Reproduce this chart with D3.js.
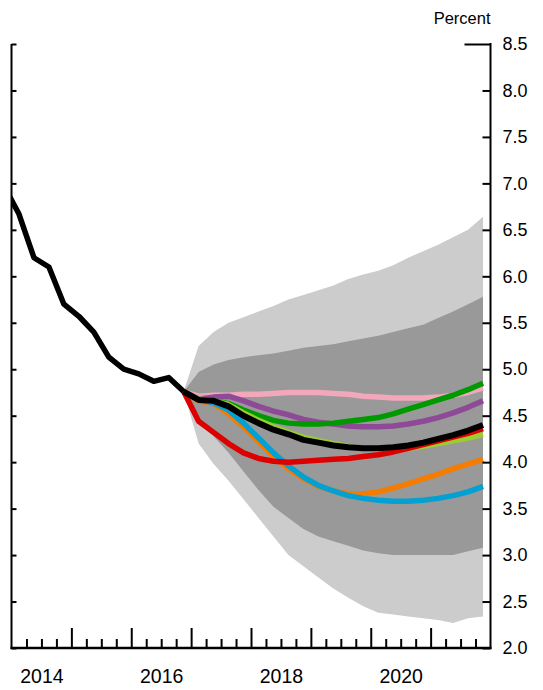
<!DOCTYPE html>
<html>
<head>
<meta charset="utf-8">
<script src="https://cdn.jsdelivr.net/npm/d3@7/dist/d3.min.js"></script>
<style>
  html, body { margin: 0; padding: 0; background: #fff; }
  svg { display: block; }
  text { font-family: "Liberation Sans", Arial, sans-serif; fill: #000; }
</style>
</head>
<body>
<svg id="chart" width="543" height="690"></svg>
<script>
// ---------- DATA ----------
// Historical quarters (quarter labels) and unemployment rate, percent
const histQuarters = ["2013Q4","2014Q1","2014Q2","2014Q3","2014Q4","2015Q1","2015Q2","2015Q3","2015Q4","2016Q1","2016Q2","2016Q3","2016Q4"];
const histValues   = [6.97, 6.67, 6.20, 6.10, 5.70, 5.57, 5.40, 5.13, 5.00, 4.95, 4.87, 4.91, 4.76];

// Forecast quarters 2016Q4 .. 2021Q4
const fcQuarters = ["2016Q4",
  "2017Q1","2017Q2","2017Q3","2017Q4",
  "2018Q1","2018Q2","2018Q3","2018Q4",
  "2019Q1","2019Q2","2019Q3","2019Q4",
  "2020Q1","2020Q2","2020Q3","2020Q4",
  "2021Q1","2021Q2","2021Q3","2021Q4"];

// Confidence bands
const outerUpper = [4.76, 5.25, 5.40, 5.50, 5.56, 5.62, 5.68, 5.75, 5.80, 5.85, 5.90, 5.97, 6.02, 6.06, 6.12, 6.20, 6.27, 6.34, 6.42, 6.50, 6.64];
const innerUpper = [4.76, 4.97, 5.05, 5.10, 5.13, 5.15, 5.17, 5.20, 5.23, 5.25, 5.27, 5.30, 5.33, 5.36, 5.40, 5.44, 5.48, 5.55, 5.62, 5.70, 5.78];
const innerLower = [4.76, 4.42, 4.28, 4.10, 3.90, 3.70, 3.52, 3.40, 3.28, 3.20, 3.15, 3.10, 3.05, 3.02, 3.00, 3.00, 3.00, 3.00, 3.00, 3.04, 3.08];
const outerLower = [4.76, 4.20, 3.98, 3.80, 3.60, 3.40, 3.20, 3.00, 2.88, 2.76, 2.64, 2.54, 2.45, 2.38, 2.36, 2.34, 2.32, 2.30, 2.27, 2.32, 2.34];

// Scenario paths
const pinkPath   = [4.76, 4.71, 4.72, 4.72, 4.73, 4.73, 4.74, 4.75, 4.75, 4.75, 4.74, 4.73, 4.71, 4.70, 4.69, 4.69, 4.69, 4.70, 4.72, 4.75, 4.80];
const purplePath = [4.76, 4.68, 4.70, 4.71, 4.66, 4.60, 4.55, 4.51, 4.46, 4.43, 4.41, 4.39, 4.38, 4.38, 4.39, 4.41, 4.44, 4.48, 4.53, 4.59, 4.66];
const greenPath  = [4.76, 4.67, 4.66, 4.63, 4.56, 4.50, 4.45, 4.42, 4.41, 4.41, 4.42, 4.44, 4.46, 4.48, 4.52, 4.57, 4.62, 4.67, 4.72, 4.78, 4.85];
const limePath   = [4.76, 4.68, 4.66, 4.62, 4.53, 4.45, 4.38, 4.32, 4.27, 4.23, 4.20, 4.17, 4.15, 4.14, 4.14, 4.15, 4.17, 4.20, 4.23, 4.26, 4.30];
const orangePath = [4.76, 4.66, 4.63, 4.52, 4.38, 4.22, 4.06, 3.93, 3.82, 3.74, 3.69, 3.66, 3.66, 3.68, 3.72, 3.77, 3.82, 3.87, 3.93, 3.98, 4.03];
const cyanPath   = [4.76, 4.67, 4.64, 4.56, 4.42, 4.26, 4.10, 3.96, 3.84, 3.75, 3.69, 3.64, 3.61, 3.59, 3.58, 3.58, 3.59, 3.61, 3.64, 3.68, 3.74];
const redPath    = [4.76, 4.44, 4.32, 4.20, 4.10, 4.04, 4.01, 4.00, 4.01, 4.02, 4.03, 4.04, 4.06, 4.08, 4.11, 4.15, 4.19, 4.23, 4.27, 4.31, 4.36];
const blackPath  = [4.76, 4.67, 4.66, 4.60, 4.50, 4.42, 4.35, 4.30, 4.24, 4.21, 4.18, 4.16, 4.15, 4.15, 4.16, 4.18, 4.21, 4.25, 4.29, 4.34, 4.40];

// Axis ticks and labels
const yTicks = [2.0, 2.5, 3.0, 3.5, 4.0, 4.5, 5.0, 5.5, 6.0, 6.5, 7.0, 7.5, 8.0, 8.5];
const yearTicks = [2015, 2016, 2017, 2018, 2019, 2020, 2021];
const quarterTicks = [2014.25, 2014.5, 2014.75, 2015.25, 2015.5, 2015.75, 2016.25, 2016.5, 2016.75,
                      2017.25, 2017.5, 2017.75, 2018.25, 2018.5, 2018.75, 2019.25, 2019.5, 2019.75,
                      2020.25, 2020.5, 2020.75, 2021.25, 2021.5, 2021.75];
const yearLabels = ["2014", "2016", "2018", "2020"];
const unitLabel = "Percent";

// ---------- LAYOUT ----------
const svg = d3.select("#chart");
const L = 11.5, R = 490.5, T = 44, B = 648;

const qToTime = q => +q.slice(0, 4) + (+q.slice(5) - 0.5) / 4;

const x = d3.scaleLinear().domain([2014, 2022]).range([L, R]);
const y = d3.scaleLinear().domain([2, 8.5]).range([B, T]);

svg.append("defs").append("clipPath").attr("id", "plotclip")
  .append("rect").attr("x", L).attr("y", T - 10).attr("width", R - L).attr("height", B - T + 10);

const plot = svg.append("g").attr("clip-path", "url(#plotclip)");

const fc = fcQuarters.map(qToTime);

// Bands
const area = (lo, hi) => d3.area()
  .x((d, i) => x(fc[i]))
  .y0((d, i) => y(lo[i]))
  .y1((d, i) => y(hi[i]))(fc);

plot.append("path").attr("d", area(outerLower, outerUpper)).attr("fill", "#cccccc");
plot.append("path").attr("d", area(innerLower, innerUpper)).attr("fill", "#999999");

// Scenario lines
const lineGen = d3.line().x(d => x(d[0])).y(d => y(d[1]));
const series = [
  { v: pinkPath,   c: "#f2a7bb", w: 5.5 },
  { v: purplePath, c: "#8e4a96", w: 5.5 },
  { v: greenPath,  c: "#009a00", w: 5.5 },
  { v: limePath,   c: "#9acd32", w: 5.5 },
  { v: orangePath, c: "#f47c00", w: 5.5 },
  { v: cyanPath,   c: "#05a0d2", w: 5.5 },
  { v: redPath,    c: "#dd0000", w: 5.5 },
  { v: blackPath,  c: "#000000", w: 6 }
];
series.forEach(s => {
  plot.append("path")
    .attr("d", lineGen(fc.map((t, i) => [t, s.v[i]])))
    .attr("fill", "none").attr("stroke", s.c).attr("stroke-width", s.w)
    .attr("stroke-linejoin", "round");
});

// Historical line
plot.append("path")
  .attr("d", lineGen(histQuarters.map((q, i) => [qToTime(q), histValues[i]])))
  .attr("fill", "none").attr("stroke", "#000").attr("stroke-width", 5.5)
  .attr("stroke-linejoin", "round");

// ---------- AXES ----------
function styleAxis(g) {
  g.select(".domain").remove();
  g.selectAll(".tick line").attr("stroke", "#000").attr("stroke-width", 2);
  g.selectAll("text").attr("font-family", "'Liberation Sans', Arial, sans-serif").attr("fill", "#000");
}

// Right axis with labels
const rightAxis = svg.append("g").attr("transform", `translate(${R},0)`)
  .call(d3.axisRight(y).tickValues(yTicks).tickFormat(d3.format(".1f")).tickSize(-8).tickPadding(12))
  .call(styleAxis);
rightAxis.selectAll("text").attr("font-size", 18);
rightAxis.selectAll(".tick").filter(d => d === 8.5).select("line").attr("x2", -26);

// Left axis ticks
svg.append("g").attr("transform", `translate(${L},0)`)
  .call(d3.axisLeft(y).tickValues(yTicks).tickFormat("").tickSize(-5))
  .call(styleAxis);

// Bottom ticks: years (tall) and quarters (short)
svg.append("g").attr("transform", `translate(0,${B})`)
  .call(d3.axisBottom(x).tickValues(yearTicks).tickFormat("").tickSize(-20))
  .call(styleAxis);
svg.append("g").attr("transform", `translate(0,${B})`)
  .call(d3.axisBottom(x).tickValues(quarterTicks).tickFormat("").tickSize(-9))
  .call(styleAxis);

// Year labels centred in year
const yearLab = svg.append("g").attr("transform", `translate(0,${B})`)
  .call(d3.axisBottom(x).tickValues(yearLabels.map(s => +s + 0.5)).tickFormat(d => String(Math.floor(d))).tickSize(0).tickPadding(21))
  .call(styleAxis);
yearLab.selectAll("text").attr("font-size", 19.5);

// Frame lines
svg.append("line").attr("x1", L).attr("x2", L).attr("y1", T).attr("y2", B + 1).attr("stroke", "#000").attr("stroke-width", 2);
svg.append("line").attr("x1", R).attr("x2", R).attr("y1", T - 1).attr("y2", B + 1).attr("stroke", "#000").attr("stroke-width", 2);
svg.append("line").attr("x1", L - 1).attr("x2", R + 1).attr("y1", B).attr("y2", B).attr("stroke", "#000").attr("stroke-width", 2.5);

// Unit label
svg.append("text").attr("x", R).attr("y", 24).attr("text-anchor", "end")
  .attr("font-size", 16.5).text(unitLabel);
</script>
</body>
</html>
